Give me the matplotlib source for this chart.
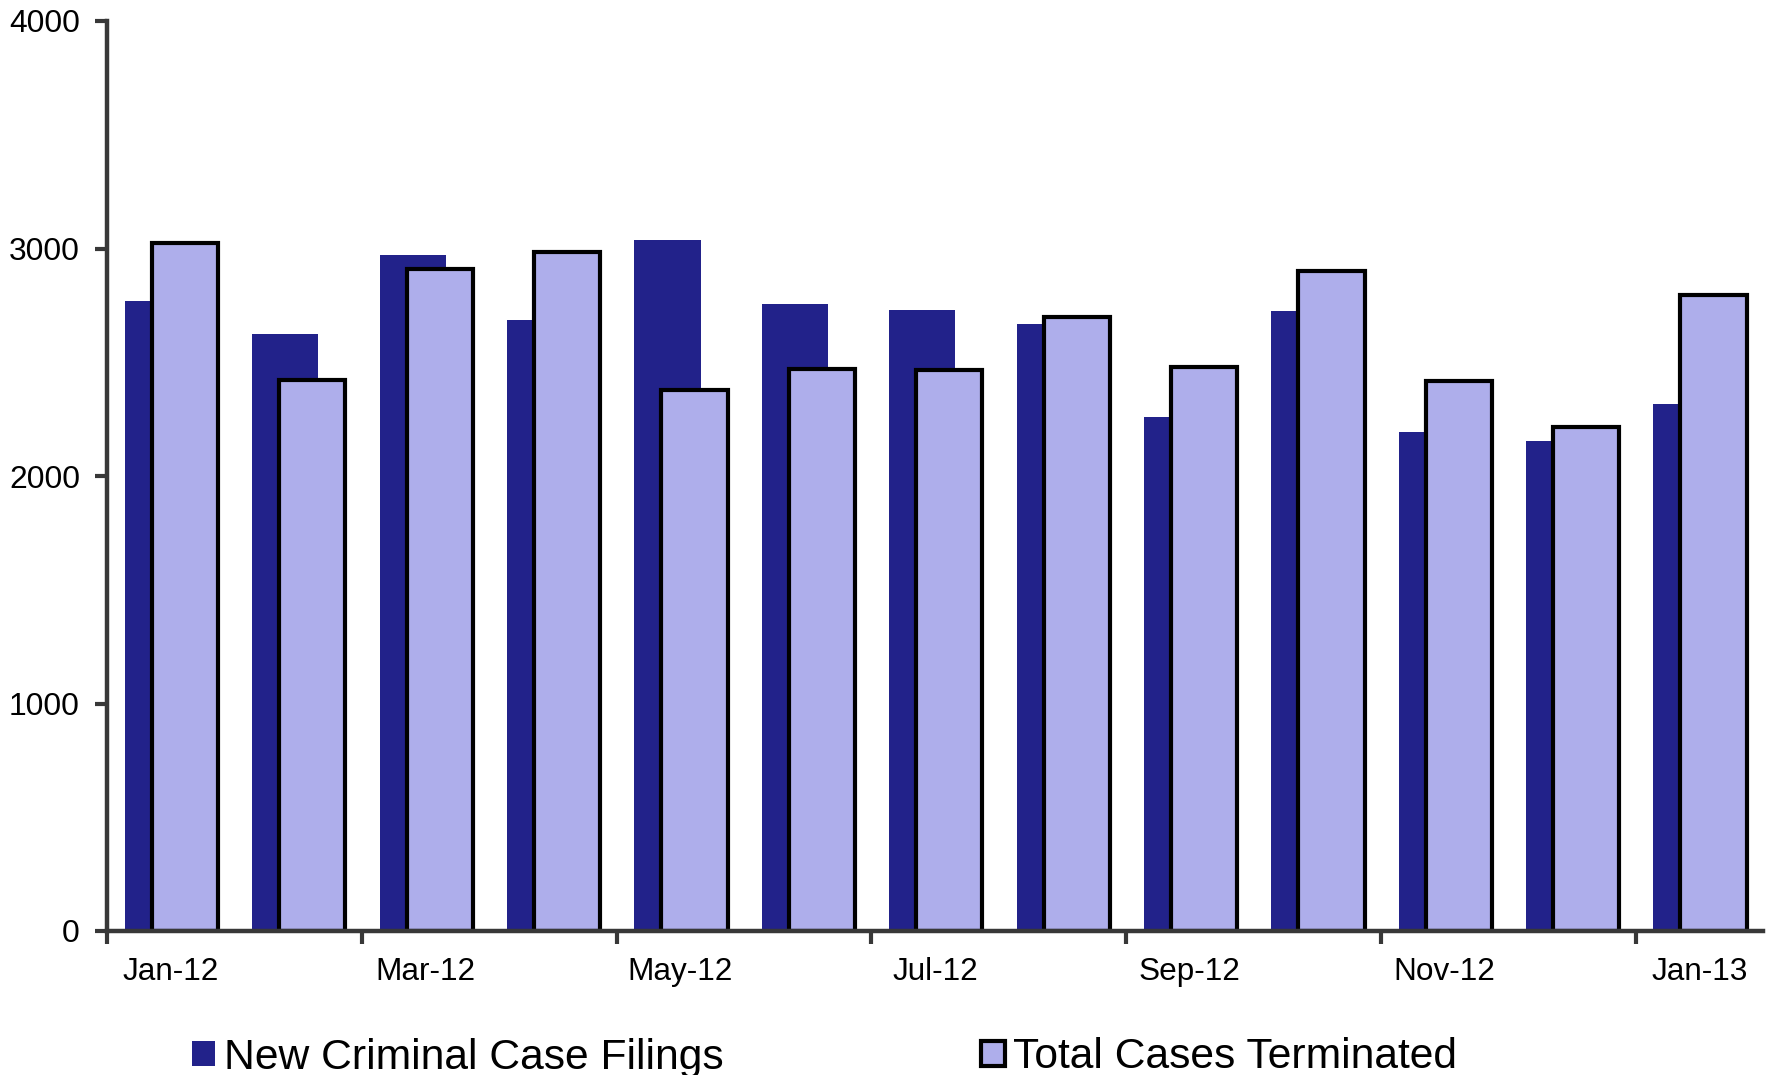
import numpy as np
import matplotlib
matplotlib.use("Agg")
import matplotlib.pyplot as plt

plt.rcParams['font.family'] = ['Liberation Sans', 'DejaVu Sans']

# monthly data, Jan-12 .. Jan-13
months = ['Jan-12', 'Feb-12', 'Mar-12', 'Apr-12', 'May-12', 'Jun-12', 'Jul-12',
          'Aug-12', 'Sep-12', 'Oct-12', 'Nov-12', 'Dec-12', 'Jan-13']
filings = [2769, 2626, 2970, 2687, 3036, 2755, 2731, 2670, 2260, 2725, 2192, 2156, 2318]
terminated = [3024, 2421, 2909, 2985, 2377, 2471, 2465, 2699, 2479, 2901, 2418, 2216, 2797]

dark = '#22228A'
light = '#AEAEEB'
axcol = '#383838'

x = np.arange(len(months))
w = 0.52

fig = plt.figure(figsize=(17.73, 10.75), dpi=100)
ax = fig.add_axes([107/1773, 1-931/1075, 1656/1773, 910/1075])

b1 = ax.bar(x - 0.10, filings, w, color=dark, linewidth=0, zorder=2,
            label='New Criminal Case Filings')
b2 = ax.bar(x + 0.112, terminated, w, color=light, edgecolor='black',
            linewidth=3.0, zorder=3, label='Total Cases Terminated')

ax.set_xlim(-0.5, 12.5)
ax.set_ylim(0, 4000)
ax.set_yticks([0, 1000, 2000, 3000, 4000])

# ticks on category boundaries, labels every other month
ax.set_xticks(np.arange(-0.5, 12, 2))
ax.set_xticklabels([])
ax.set_xticks(x[::2], minor=True)
ax.set_xticklabels(months[::2], minor=True)

ax.tick_params(axis='x', which='major', direction='out', length=9, width=3, color=axcol)
ax.tick_params(axis='x', which='minor', length=0, pad=18.5, labelsize=22.7)
ax.tick_params(axis='y', direction='out', length=9, width=3, color=axcol,
               pad=10.5, labelsize=22.9)

for s in ['top', 'right']:
    ax.spines[s].set_visible(False)
for s in ['left', 'bottom']:
    ax.spines[s].set_color(axcol)
    ax.spines[s].set_linewidth(3.2)
    ax.spines[s].set_zorder(4)

fig.legend(handles=[b1, b2], loc='center left', bbox_to_anchor=(192/1773, 17.5/1075),
           ncol=2, frameon=False, fontsize=30.7, handlelength=0.55, handleheight=0.55,
           handletextpad=0.2, columnspacing=6.04, borderpad=0, borderaxespad=0)

fig.savefig('out.png', dpi=100)
